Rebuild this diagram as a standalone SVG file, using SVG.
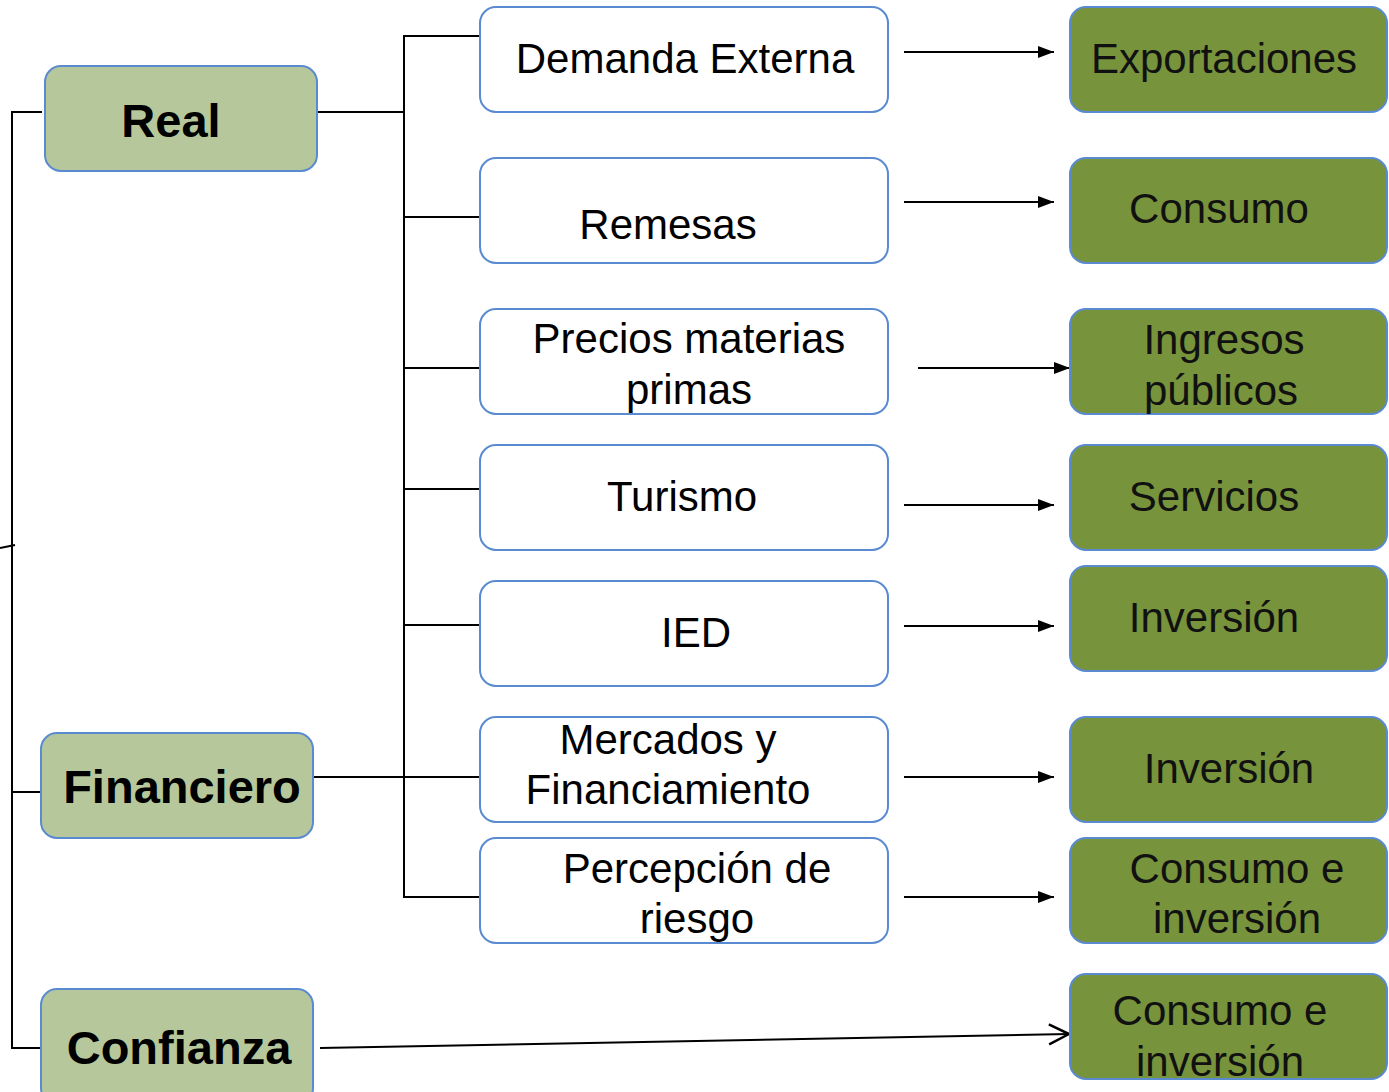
<svg xmlns="http://www.w3.org/2000/svg" width="1389" height="1092" viewBox="0 0 1389 1092">
<defs>
<marker id="ah" markerWidth="16" markerHeight="12" refX="16" refY="6" orient="auto" markerUnits="userSpaceOnUse"><path d="M0,0 L16,6 L0,12 Z" fill="#000"/></marker>
<marker id="oh" markerWidth="24" markerHeight="24" refX="22" refY="12" orient="auto" markerUnits="userSpaceOnUse"><path d="M2,2 L22,12 L2,22" fill="none" stroke="#000" stroke-width="2.5"/></marker>
</defs>
<style>
.w{fill:#fff;stroke:#5a8ad0;stroke-width:2}
.g{fill:#77933c;stroke:#5a8ad0;stroke-width:2}
.l{fill:#b6c89b;stroke:#5a8ad0;stroke-width:2}
.t{font-family:"Liberation Sans",Arial,sans-serif;font-size:42px;fill:#000;text-anchor:middle}
.tg{font-family:"Liberation Sans",Arial,sans-serif;font-size:42px;fill:#111;text-anchor:middle}
.b{font-family:"Liberation Sans",Arial,sans-serif;font-size:47px;font-weight:bold;fill:#000;text-anchor:middle}
.c{fill:none;stroke:#000;stroke-width:2}
</style>
<g id="connectors">
<polyline class="c" points="42,112 12,112 12,1048 42,1048"/>
<line class="c" x1="12" y1="792" x2="42" y2="792"/>
<line class="c" x1="0" y1="548" x2="15" y2="545"/>
<line class="c" x1="316" y1="112" x2="404" y2="112"/>
<polyline class="c" points="480,36 404,36 404,897 480,897"/>
<line class="c" x1="404" y1="217" x2="480" y2="217"/>
<line class="c" x1="404" y1="368" x2="480" y2="368"/>
<line class="c" x1="404" y1="489" x2="480" y2="489"/>
<line class="c" x1="404" y1="625" x2="480" y2="625"/>
<line class="c" x1="313" y1="777" x2="480" y2="777"/>
<line class="c" x1="904" y1="52" x2="1054" y2="52" marker-end="url(#ah)"/>
<line class="c" x1="904" y1="202" x2="1054" y2="202" marker-end="url(#ah)"/>
<line class="c" x1="918" y1="368" x2="1070" y2="368" marker-end="url(#ah)"/>
<line class="c" x1="904" y1="505" x2="1054" y2="505" marker-end="url(#ah)"/>
<line class="c" x1="904" y1="626" x2="1054" y2="626" marker-end="url(#ah)"/>
<line class="c" x1="904" y1="777" x2="1054" y2="777" marker-end="url(#ah)"/>
<line class="c" x1="904" y1="897" x2="1054" y2="897" marker-end="url(#ah)"/>
<line class="c" x1="320" y1="1048" x2="1069" y2="1034" marker-end="url(#oh)"/>
</g>
<g id="n-real"><rect class="l" x="45" y="66" width="272" height="105" rx="16"/><text class="b" x="171" y="137">Real</text></g>
<g id="n-financiero"><rect class="l" x="41" y="733" width="272" height="105" rx="16"/><text class="b" x="182" y="803">Financiero</text></g>
<g id="n-confianza"><rect class="l" x="41" y="989" width="272" height="115" rx="16"/><text class="b" x="179" y="1064">Confianza</text></g>
<g id="n-demanda"><rect class="w" x="480" y="7" width="408" height="105" rx="16"/><text class="t" x="685" y="73">Demanda Externa</text></g>
<g id="n-remesas"><rect class="w" x="480" y="158" width="408" height="105" rx="16"/><text class="t" x="668" y="239">Remesas</text></g>
<g id="n-precios"><rect class="w" x="480" y="309" width="408" height="105" rx="16"/><text class="t" x="689" y="353">Precios materias</text><text class="t" x="689" y="404">primas</text></g>
<g id="n-turismo"><rect class="w" x="480" y="445" width="408" height="105" rx="16"/><text class="t" x="682" y="511">Turismo</text></g>
<g id="n-ied"><rect class="w" x="480" y="581" width="408" height="105" rx="16"/><text class="t" x="696" y="647">IED</text></g>
<g id="n-mercados"><rect class="w" x="480" y="717" width="408" height="105" rx="16"/><text class="t" x="668" y="754">Mercados y</text><text class="t" x="668" y="804">Financiamiento</text></g>
<g id="n-percepcion"><rect class="w" x="480" y="838" width="408" height="105" rx="16"/><text class="t" x="697" y="883">Percepción de</text><text class="t" x="697" y="933">riesgo</text></g>
<g id="n-exportaciones"><rect class="g" x="1070" y="7" width="317" height="105" rx="16"/><text class="tg" x="1224" y="73">Exportaciones</text></g>
<g id="n-consumo"><rect class="g" x="1070" y="158" width="317" height="105" rx="16"/><text class="tg" x="1219" y="223">Consumo</text></g>
<g id="n-ingresos"><rect class="g" x="1070" y="309" width="317" height="105" rx="16"/><text class="tg" x="1224" y="354">Ingresos</text><text class="tg" x="1221" y="405">públicos</text></g>
<g id="n-servicios"><rect class="g" x="1070" y="445" width="317" height="105" rx="16"/><text class="tg" x="1214" y="511">Servicios</text></g>
<g id="n-inversion1"><rect class="g" x="1070" y="566" width="317" height="105" rx="16"/><text class="tg" x="1214" y="632">Inversión</text></g>
<g id="n-inversion2"><rect class="g" x="1070" y="717" width="317" height="105" rx="16"/><text class="tg" x="1229" y="783">Inversión</text></g>
<g id="n-consinv1"><rect class="g" x="1070" y="838" width="317" height="105" rx="16"/><text class="tg" x="1237" y="883">Consumo e</text><text class="tg" x="1237" y="933">inversión</text></g>
<g id="n-consinv2"><rect class="g" x="1070" y="974" width="317" height="105" rx="16"/><text class="tg" x="1220" y="1025">Consumo e</text><text class="tg" x="1220" y="1076">inversión</text></g>
</svg>
